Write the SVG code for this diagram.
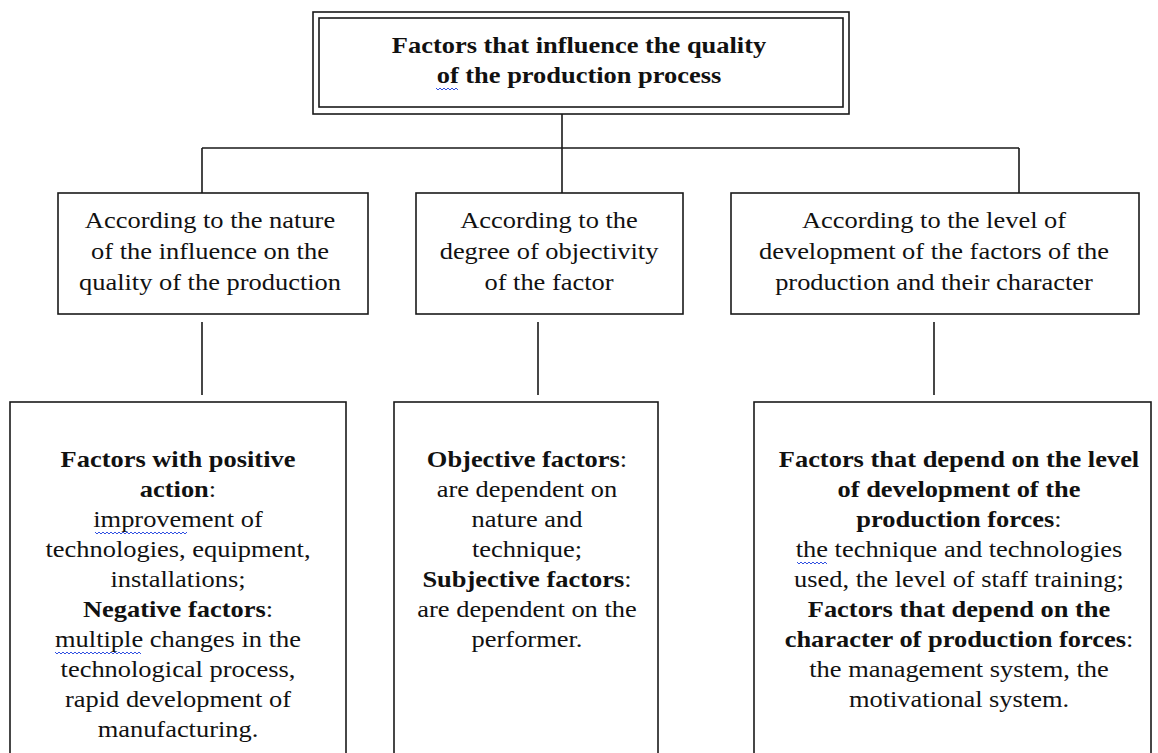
<svg xmlns="http://www.w3.org/2000/svg" width="1158" height="753" viewBox="0 0 1158 753">
<style>
.box{fill:#fff;stroke:#1a1a1a;stroke-width:1.6}
.ln{fill:none;stroke:#1a1a1a;stroke-width:1.6}
text{font-family:"Liberation Serif","Times New Roman",serif;font-size:23px;fill:#111;text-anchor:middle}
.t{font-size:23px;font-weight:bold}
.b{font-weight:bold}
.sq{fill:none;stroke:#3050e0;stroke-width:1}
</style>
<rect width="1158" height="753" fill="#fff"/>
<g id="connectors">
<path class="ln" d="M562 114V193M202 148H1019M202 148V193M1019 148V193M202 322V395M538 322V395M934 322V395"/>
</g>
<g id="top">
<rect class="box" x="313" y="12" width="536" height="102"/>
<rect class="box" x="319" y="18" width="524" height="89"/>
<g transform="translate(579 0) scale(1.15 1)">
<text class="t" x="0" y="53">Factors that influence the quality</text>
<text class="t" x="0" y="83">of the production process</text>
</g>
<path class="sq" d="M436 88l2 2 2-2 2 2 2-2 2 2 2-2 2 2 2-2 2 2 2-2 2 2"/>
</g>
<g id="nodeA">
<rect class="box" x="58" y="193" width="310" height="121"/>
<g transform="translate(210 0) scale(1.15 1)">
<text x="0" y="228">According to the nature</text>
<text x="0" y="259">of the influence on the</text>
<text x="0" y="290">quality of the production</text>
</g>
</g>
<g id="nodeB">
<rect class="box" x="416" y="193" width="267" height="121"/>
<g transform="translate(549 0) scale(1.15 1)">
<text x="0" y="228">According to the</text>
<text x="0" y="259">degree of objectivity</text>
<text x="0" y="290">of the factor</text>
</g>
</g>
<g id="nodeC">
<rect class="box" x="731" y="193" width="408" height="121"/>
<g transform="translate(934 0) scale(1.15 1)">
<text x="0" y="228">According to the level of</text>
<text x="0" y="259">development of the factors of the</text>
<text x="0" y="290">production and their character</text>
</g>
</g>
<g id="nodeD">
<rect class="box" x="10" y="402" width="336" height="360"/>
<g transform="translate(178 0) scale(1.15 1)">
<text class="b" x="0" y="467">Factors with positive</text>
<text x="0" y="497"><tspan class="b">action</tspan>:</text>
<text x="0" y="527">improvement of</text>
<text x="0" y="557">technologies, equipment,</text>
<text x="0" y="587">installations;</text>
<text x="0" y="617"><tspan class="b">Negative factors</tspan>:</text>
<text x="0" y="647">multiple changes in the</text>
<text x="0" y="677">technological process,</text>
<text x="0" y="707">rapid development of</text>
<text x="0" y="737">manufacturing.</text>
</g>
<path class="sq" d="M95 532l2 2 2-2 2 2 2-2 2 2 2-2 2 2 2-2 2 2 2-2 2 2 2-2 2 2 2-2 2 2 2-2 2 2 2-2 2 2 2-2 2 2 2-2 2 2 2-2 2 2 2-2 2 2 2-2 2 2 2-2 2 2 2-2 2 2 2-2 2 2 2-2 2 2 2-2 2 2 2-2 2 2 2-2 2 2 2-2 2 2 2-2"/>
<path class="sq" d="M55 652l2 2 2-2 2 2 2-2 2 2 2-2 2 2 2-2 2 2 2-2 2 2 2-2 2 2 2-2 2 2 2-2 2 2 2-2 2 2 2-2 2 2 2-2 2 2 2-2 2 2 2-2 2 2 2-2 2 2 2-2 2 2 2-2 2 2 2-2 2 2 2-2 2 2 2-2 2 2 2-2 2 2 2-2 2 2"/>
</g>
<g id="nodeE">
<rect class="box" x="394" y="402" width="264" height="360"/>
<g transform="translate(527 0) scale(1.15 1)">
<text x="0" y="467"><tspan class="b">Objective factors</tspan>:</text>
<text x="0" y="497">are dependent on</text>
<text x="0" y="527">nature and</text>
<text x="0" y="557">technique;</text>
<text x="0" y="587"><tspan class="b">Subjective factors</tspan>:</text>
<text x="0" y="617">are dependent on the</text>
<text x="0" y="647">performer.</text>
</g>
</g>
<g id="nodeF">
<rect class="box" x="754" y="402" width="397" height="360"/>
<g transform="translate(959 0) scale(1.15 1)">
<text class="b" x="0" y="467">Factors that depend on the level</text>
<text class="b" x="0" y="497">of development of the</text>
<text x="0" y="527"><tspan class="b">production forces</tspan>:</text>
<text x="0" y="557">the technique and technologies</text>
<text x="0" y="587">used, the level of staff training;</text>
<text class="b" x="0" y="617">Factors that depend on the</text>
<text x="0" y="647"><tspan class="b">character of production forces</tspan>:</text>
<text x="0" y="677">the management system, the</text>
<text x="0" y="707">motivational system.</text>
</g>
<path class="sq" d="M797 562l2 2 2-2 2 2 2-2 2 2 2-2 2 2 2-2 2 2 2-2 2 2 2-2 2 2 2-2 2 2"/>
</g>
</svg>
